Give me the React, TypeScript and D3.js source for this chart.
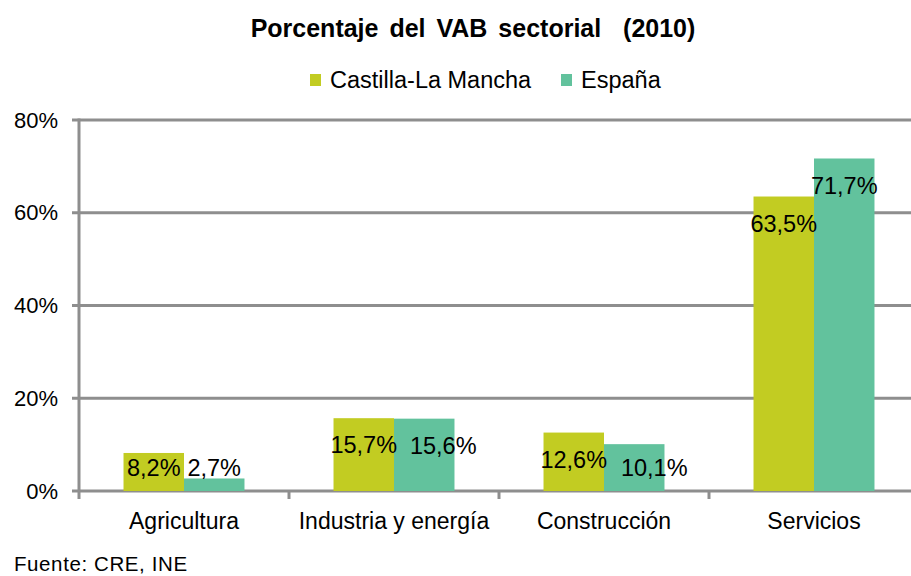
import React, { useEffect, useRef } from "react";
import * as d3 from "d3";

const categories = ["Agricultura", "Industria y energía", "Construcción", "Servicios"];
const seriesNames = ["Castilla-La Mancha", "España"];
const clmValues = [8.2, 15.7, 12.6, 63.5];
const espValues = [2.7, 15.6, 10.1, 71.7];
const yTicks = [0, 20, 40, 60, 80];
const colors = ["#C2CC22", "#62C29D"];

const W = 911;
const H = 576;
const FONT = "'Liberation Sans', Arial, sans-serif";

export default function App() {
  const ref = useRef<SVGSVGElement>(null);

  useEffect(() => {
    const svg = d3.select(ref.current);
    svg.selectAll("*").remove();

    const left = 79;
    const x0 = d3
      .scaleBand<string>()
      .domain(categories)
      .range([left, left + 840])
      .paddingInner(0.424)
      .paddingOuter(0.212);
    const x1 = d3.scaleBand<string>().domain(seriesNames).range([0, x0.bandwidth()]);
    const y = d3.scaleLinear().domain([0, 80]).range([491, 120]);

    // title
    svg
      .append("text")
      .attr("x", 473)
      .attr("y", 37)
      .attr("text-anchor", "middle")
      .attr("word-spacing", "4px")
      .attr("xml:space", "preserve")
      .style("font", `bold 25px ${FONT}`)
      .text("Porcentaje del VAB sectorial  (2010)");

    // legend
    const legendPos = [310, 561];
    seriesNames.forEach((name, i) => {
      const g = svg.append("g").attr("transform", `translate(${legendPos[i]},80)`);
      g.append("rect").attr("x", 0).attr("y", -6).attr("width", 11).attr("height", 12).attr("fill", colors[i]);
      g.append("text")
        .attr("x", 20)
        .attr("y", 8)
        .style("font", `23.5px ${FONT}`)
        .text(name);
    });

    // gridlines
    svg
      .append("g")
      .selectAll("line")
      .data(yTicks)
      .enter()
      .append("line")
      .attr("x1", 72)
      .attr("x2", W)
      .attr("y1", (d) => y(d))
      .attr("y2", (d) => y(d))
      .attr("stroke", "#8E8E8E")
      .attr("stroke-width", 3);

    svg
      .append("g")
      .selectAll("text")
      .data(yTicks)
      .enter()
      .append("text")
      .attr("x", 58)
      .attr("y", (d) => y(d))
      .attr("dy", "0.35em")
      .attr("text-anchor", "end")
      .style("font", `22px ${FONT}`)
      .text((d) => d + "%");

    // bars
    const rows = categories.map((c, i) => ({ cat: c, vals: [clmValues[i], espValues[i]] }));
    const labelShift = [[0, 0], [0, 19], [0, 20], [0, 0]];

    const groups = svg
      .append("g")
      .selectAll("g")
      .data(rows)
      .enter()
      .append("g")
      .attr("transform", (d) => `translate(${x0(d.cat)},0)`);

    groups
      .selectAll("rect")
      .data((d) => d.vals.map((v, j) => ({ v, s: seriesNames[j], j })))
      .enter()
      .append("rect")
      .attr("x", (d) => x1(d.s)!)
      .attr("width", x1.bandwidth())
      .attr("y", (d) => y(d.v))
      .attr("height", (d) => y(0) - y(d.v))
      .attr("fill", (d) => colors[d.j]);

    // axes lines
    svg
      .append("line")
      .attr("x1", left)
      .attr("x2", left)
      .attr("y1", y(80) - 1.5)
      .attr("y2", y(0) + 8)
      .attr("stroke", "#8E8E8E")
      .attr("stroke-width", 3);

    svg
      .append("g")
      .selectAll("line")
      .data(d3.range(1, categories.length))
      .enter()
      .append("line")
      .attr("x1", (i) => left + i * x0.step())
      .attr("x2", (i) => left + i * x0.step())
      .attr("y1", y(0))
      .attr("y2", y(0) + 8)
      .attr("stroke", "#8E8E8E")
      .attr("stroke-width", 3);

    groups
      .selectAll("text.val")
      .data((d, i) => d.vals.map((v, j) => ({ v, s: seriesNames[j], j, dx: labelShift[i][j] })))
      .enter()
      .append("text")
      .attr("class", "val")
      .attr("x", (d) => x1(d.s)! + x1.bandwidth() / 2 + d.dx)
      .attr("y", (d) => Math.min(y(d.v) + 27, y(0) - 23))
      .attr("dy", "0.35em")
      .attr("text-anchor", "middle")
      .style("font", `23.5px ${FONT}`)
      .text((d) => d3.format(".1f")(d.v).replace(".", ",") + "%");

    // category labels
    svg
      .append("g")
      .selectAll("text")
      .data(categories)
      .enter()
      .append("text")
      .attr("x", (d) => x0(d)! + x0.bandwidth() / 2)
      .attr("y", 529)
      .attr("text-anchor", "middle")
      .style("font", `23px ${FONT}`)
      .text((d) => d);

    svg
      .append("text")
      .attr("x", 14)
      .attr("y", 571)
      .attr("letter-spacing", "0.6px")
      .style("font", `20.5px ${FONT}`)
      .text("Fuente: CRE, INE");
  }, []);

  return (
    <svg
      ref={ref}
      width={W}
      height={H}
      style={{ position: "absolute", left: 0, top: 0, background: "#fff" }}
    />
  );
}
